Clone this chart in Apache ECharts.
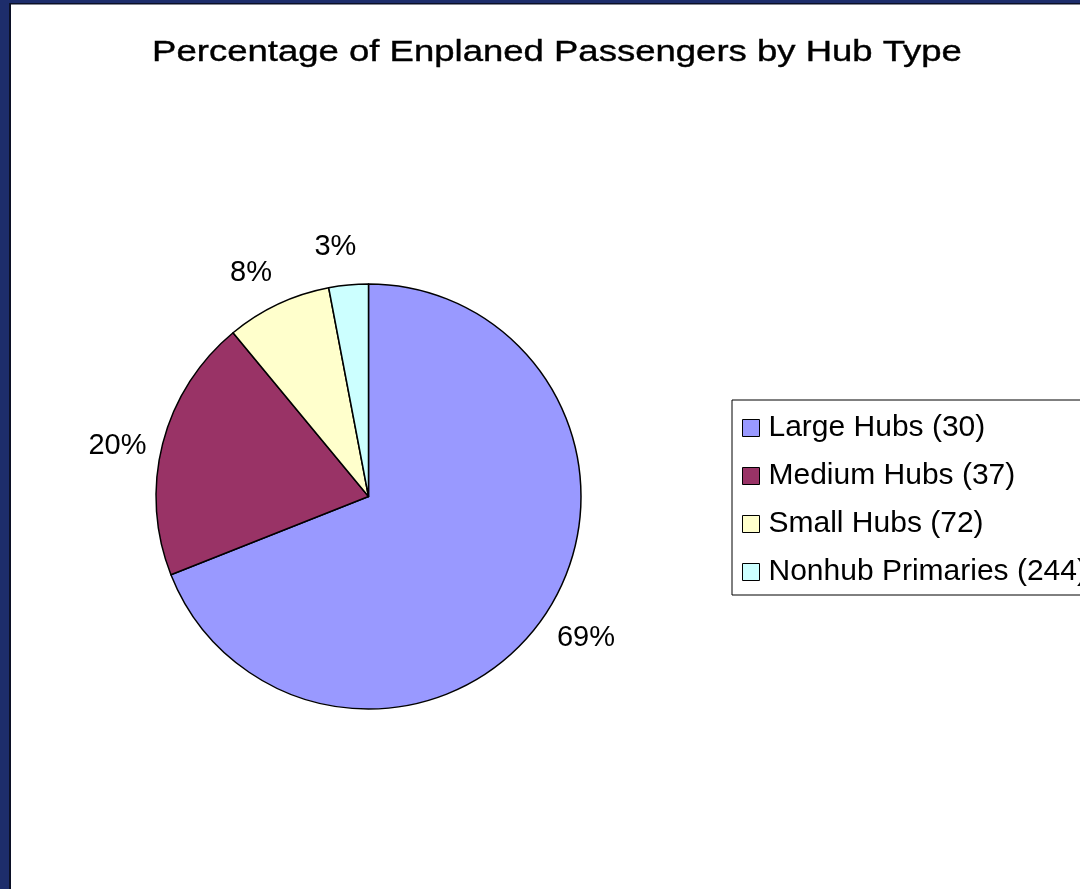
<!DOCTYPE html>
<html>
<head>
<meta charset="utf-8">
<title>Percentage of Enplaned Passengers by Hub Type</title>
<script src="https://cdn.jsdelivr.net/npm/echarts@6/dist/echarts.min.js"></script>
<style>
  html, body { margin: 0; padding: 0; background: #ffffff; }
  #chart { width: 1080px; height: 889px; }
</style>
</head>
<body>
<div id="chart"></div>
<script>
// Hub categories, number of airports in each, and share of enplanements (%)
const categories = ['Large Hubs', 'Medium Hubs', 'Small Hubs', 'Nonhub Primaries'];
const airportCounts = [30, 37, 72, 244];
const sharePercent = [69, 20, 8, 3];
const sliceColors = ['#9999FF', '#993366', '#FFFFCC', '#CCFFFF'];

const FONT = '"Liberation Sans", Arial, sans-serif';

const legendNames = categories.map((c, i) => c + ' (' + airportCounts[i] + ')');
const pieData = legendNames.map((n, i) => ({
  name: n,
  value: sharePercent[i],
  itemStyle: { color: sliceColors[i] }
}));

const center = [368.5, 496.5];

const chart = echarts.init(document.getElementById('chart'), null, { renderer: 'canvas' });

chart.setOption({
  animation: false,
  backgroundColor: '#ffffff',
  graphic: [
    // navy frame strips on the left and top
    { type: 'rect', shape: { x: 0, y: 0, width: 10, height: 889 }, style: { fill: '#1D2D6B' }, silent: true },
    { type: 'rect', shape: { x: 0, y: 0, width: 1080, height: 3 }, style: { fill: '#1D2D6B' }, silent: true },
    { type: 'rect', shape: { x: 9, y: 3, width: 2, height: 886 }, style: { fill: '#0B1026' }, silent: true },
    { type: 'rect', shape: { x: 9, y: 3, width: 1071, height: 1.5 }, style: { fill: '#0B1026' }, silent: true },
    // chart title (wide face)
    {
      type: 'text',
      x: 557, y: 53,
      scaleX: 1.217,
      silent: true,
      style: {
        x: 0, y: 0,
        text: 'Percentage of Enplaned Passengers by Hub Type',
        fontFamily: FONT,
        fontSize: 30,
        fill: '#000000',
        stroke: '#000000',
        lineWidth: 0.4,
        align: 'center',
        verticalAlign: 'middle'
      }
    }
  ],
  legend: {
    orient: 'vertical',
    left: 732,
    top: 400,
    data: legendNames,
    icon: 'rect',
    itemWidth: 17,
    itemHeight: 17,
    itemGap: 16,
    padding: [12, 12, 7, 10],
    backgroundColor: '#ffffff',
    borderColor: '#000000',
    borderWidth: 1,
    borderRadius: 0,
    selectedMode: false,
    itemStyle: { borderColor: '#000000', borderWidth: 1 },
    textStyle: {
      fontFamily: FONT,
      fontSize: 30,
      color: '#000000',
      lineHeight: 32,
      padding: [0, 0, 0, 4]
    }
  },
  series: [
    {
      type: 'pie',
      center: center,
      radius: 212.5,
      startAngle: 90,
      clockwise: true,
      silent: true,
      label: { show: false },
      labelLine: { show: false },
      emphasis: { disabled: true },
      itemStyle: { borderColor: '#000000', borderWidth: 1.5 },
      data: pieData
    },
    {
      // transparent ring carrying the percentage labels just outside the pie
      type: 'pie',
      center: center,
      radius: [241, 267],
      startAngle: 92,
      clockwise: true,
      silent: true,
      legendHoverLink: false,
      emphasis: { disabled: true },
      itemStyle: { color: 'rgba(0,0,0,0)', borderWidth: 0 },
      labelLine: { show: false },
      label: {
        show: true,
        position: 'inside',
        formatter: '{c}%',
        offset: [0, 5],
        fontFamily: FONT,
        fontSize: 29,
        color: '#000000'
      },
      data: pieData.map(d => ({ name: d.name, value: d.value }))
    }
  ]
});
</script>
</body>
</html>
